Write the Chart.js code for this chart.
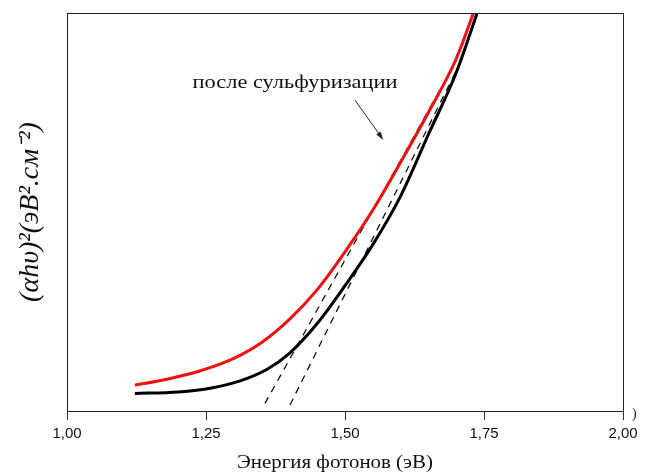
<!DOCTYPE html>
<html>
<head>
<meta charset="utf-8">
<script src="https://cdn.jsdelivr.net/npm/chart.js@4.4.0/dist/chart.umd.min.js"></script>
<style>
  html, body { margin: 0; padding: 0; background: #fff; }
  #wrap { width: 646px; height: 476px; }
</style>
</head>
<body>
<div id="wrap"><canvas id="taucChart"></canvas></div>
<script>
// photon energy (eV) vs (αhν)², arbitrary units (axis shows no values)
const redEnergy   = [1.122, 1.180, 1.240, 1.300, 1.350, 1.400, 1.450, 1.500, 1.550, 1.600, 1.650, 1.700, 1.740];
const redValue    = [6.5, 8.0, 10.1, 13.2, 17.2, 23.0, 30.5, 40.0, 50.5, 62.5, 75.0, 88.5, 103.5];

const blackEnergy = [1.122, 1.200, 1.260, 1.310, 1.360, 1.400, 1.450, 1.500, 1.550, 1.600, 1.650, 1.700, 1.745];
const blackValue  = [4.4, 4.8, 5.8, 7.5, 10.5, 14.5, 22.0, 31.5, 41.8, 54.0, 69.5, 85.0, 103];

// linear extrapolation lines (band gap)
const fitLeftEnergy  = [1.356, 1.700];
const fitLeftValue   = [1.9, 88.0];
const fitRightEnergy = [1.401, 1.700];
const fitRightValue  = [1.5, 85.5];

const xTicks = [1.00, 1.25, 1.50, 1.75, 2.00];

const xTitle = 'Энергия фотонов (эВ)';
const yTitle = '(αhυ)²(эВ².см⁻²)';

// annotation: label position and arrow (data units)
const noteText = 'после сульфуризации';
const notePos = [1.410, 82.3];
const arrowFrom = [1.518, 78.1];
const arrowTo = [1.569, 68.1];

function toPoints(xs, ys) {
    return xs.map((x, i) => ({ x: x, y: ys[i] }));
}

// the source figure is a bit stretched sideways, so text is widened a little
function wideText(ctx, text, x, y, stretch) {
    ctx.save();
    ctx.translate(x, y);
    ctx.scale(stretch, 1);
    ctx.fillText(text, 0, 0);
    ctx.restore();
}

const framePlugin = {
    id: 'frame',
    afterDraw(chart) {
        const ctx = chart.ctx;
        const a = chart.chartArea;
        const xs = chart.scales.x, ys = chart.scales.y;
        ctx.save();
        // box around plot
        ctx.strokeStyle = '#222';
        ctx.lineWidth = 1;
        ctx.strokeRect(a.left + 0.5, a.top + 0.5, a.right - a.left, a.bottom - a.top);

        ctx.fillStyle = '#111';
        ctx.textAlign = 'center';
        ctx.textBaseline = 'middle';

        // x axis title
        ctx.font = '19px "Liberation Serif", "Times New Roman", serif';
        wideText(ctx, xTitle, (a.left + a.right) / 2 - 10, chart.height - 13, 1.1);

        // label
        wideText(ctx, noteText, xs.getPixelForValue(notePos[0]), ys.getPixelForValue(notePos[1]), 1.18);

        // arrow
        const x1 = xs.getPixelForValue(arrowFrom[0]), y1 = ys.getPixelForValue(arrowFrom[1]);
        const x2 = xs.getPixelForValue(arrowTo[0]), y2 = ys.getPixelForValue(arrowTo[1]);
        const ang = Math.atan2(y2 - y1, x2 - x1);
        ctx.strokeStyle = '#222';
        ctx.lineWidth = 1;
        ctx.beginPath();
        ctx.moveTo(x1, y1);
        ctx.lineTo(x2 - 6 * Math.cos(ang), y2 - 6 * Math.sin(ang));
        ctx.stroke();
        ctx.fillStyle = '#222';
        ctx.beginPath();
        ctx.moveTo(x2, y2);
        ctx.lineTo(x2 - 9 * Math.cos(ang - 0.3), y2 - 9 * Math.sin(ang - 0.3));
        ctx.lineTo(x2 - 9 * Math.cos(ang + 0.3), y2 - 9 * Math.sin(ang + 0.3));
        ctx.closePath();
        ctx.fill();

        // stray bracket left over from the source figure
        ctx.font = '14px "Liberation Serif", serif';
        ctx.textAlign = 'left';
        ctx.fillText(')', a.right + 9, a.bottom + 3);
        ctx.restore();
    }
};

const ctx = document.getElementById('taucChart').getContext('2d');

new Chart(ctx, {
    type: 'line',
    data: {
        datasets: [
            {
                label: 'после сульфуризации',
                data: toPoints(redEnergy, redValue),
                borderColor: '#f01010',
                borderWidth: 3,
                pointRadius: 0,
                cubicInterpolationMode: 'monotone',
                order: 0
            },
            {
                label: 'до сульфуризации',
                data: toPoints(blackEnergy, blackValue),
                borderColor: '#000',
                borderWidth: 3,
                pointRadius: 0,
                cubicInterpolationMode: 'monotone',
                order: 1
            },
            {
                label: 'fit1',
                data: toPoints(fitLeftEnergy, fitLeftValue),
                borderColor: '#111',
                borderWidth: 1.3,
                borderDash: [7, 6],
                pointRadius: 0,
                order: 2
            },
            {
                label: 'fit2',
                data: toPoints(fitRightEnergy, fitRightValue),
                borderColor: '#111',
                borderWidth: 1.3,
                borderDash: [7, 6],
                pointRadius: 0,
                order: 2
            }
        ]
    },
    options: {
        responsive: true,
        maintainAspectRatio: false,
        animation: false,
        layout: {
            padding: { top: 13, right: 23, left: 0, bottom: 0 }
        },
        plugins: {
            legend: { display: false },
            tooltip: { enabled: false }
        },
        scales: {
            x: {
                type: 'linear',
                min: 1,
                max: 2,
                afterFit: function(scale) { scale.height = 65; },
                afterBuildTicks: function(scale) {
                    scale.ticks = xTicks.map(v => ({ value: v }));
                },
                grid: {
                    display: true,
                    drawOnChartArea: false,
                    tickLength: 9,
                    color: '#333'
                },
                border: { display: true, color: '#222' },
                ticks: {
                    padding: 5,
                    color: '#111',
                    font: { family: '"Liberation Sans", Arial, sans-serif', size: 15 },
                    callback: function(value) {
                        return value.toFixed(2).replace('.', ',');
                    }
                }
            },
            y: {
                type: 'linear',
                min: 0,
                max: 100,
                afterFit: function(scale) { scale.width = 67; },
                grid: { display: false },
                border: { display: true, color: '#222' },
                ticks: { display: false },
                title: {
                    display: true,
                    text: yTitle,
                    color: '#111',
                    padding: { top: 14, bottom: 0 },
                    font: { family: '"Liberation Serif", "Times New Roman", serif', size: 28, style: 'italic' }
                }
            }
        }
    },
    plugins: [framePlugin]
});
</script>
</body>
</html>
